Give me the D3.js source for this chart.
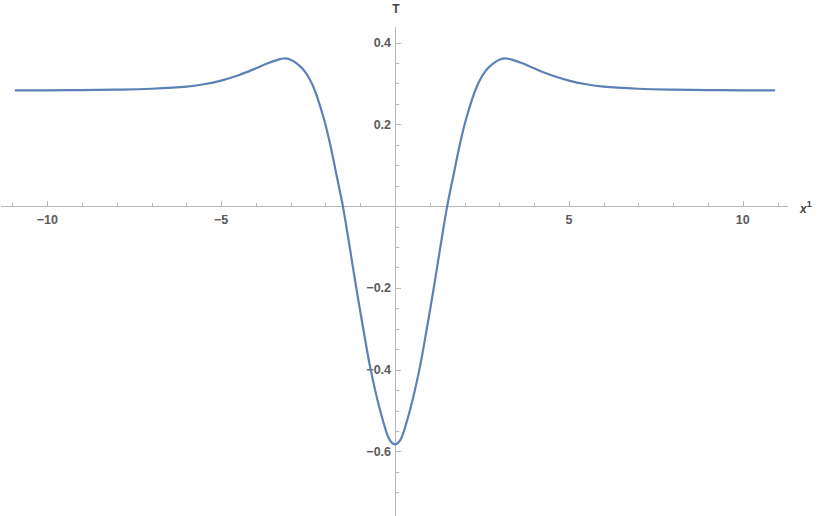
<!DOCTYPE html>
<head>
    <meta charset="utf-8">
    <title>T against x1</title>
    <style>
        body { margin: 0; background: #fff; }
        svg { display: block; }
        .axis line, .axis path { stroke: #b8b8b8; stroke-width: 1; shape-rendering: crispEdges; }
        .tick-label {
          font: bold 12.5px "Liberation Sans", Arial, sans-serif;
          fill: #5a5a5a;
        }
        .axis-label {
          font: 12px "Liberation Sans", Arial, sans-serif;
          fill: #444;
        }
        .curve {
          fill: none;
          stroke: #5e81b5;
          stroke-width: 2.2px;
          stroke-linejoin: round;
        }
    </style>
</head>
<body>
<script src="https://d3js.org/d3.v7.min.js"></script>
<script>

// curve samples
var xValues = [-10.93, -10, -9, -8, -7, -6, -5.5, -5, -4.5, -4, -3.7, -3.4, -3.2, -3.0, -2.8, -2.6,
               -2.35, -2.06, -1.87, -1.68, -1.5, -1.3, -1.12, -0.91, -0.7, -0.43, -0.19, -0.1, 0,
               0.1, 0.19, 0.43, 0.7, 0.91, 1.12, 1.3, 1.5, 1.68, 1.87, 2.06, 2.35, 2.6, 2.8,
               3.0, 3.2, 3.4, 3.7, 4, 4.5, 5, 5.5, 6, 7, 8, 9, 10, 10.93];
var tValues = [0.283, 0.2832, 0.2837, 0.2848, 0.287, 0.292, 0.298, 0.307, 0.320, 0.337, 0.348, 0.357, 0.361, 0.358, 0.347, 0.330,
               0.292, 0.218, 0.153, 0.075, 0.0, -0.102, -0.197, -0.302, -0.400, -0.499, -0.566, -0.578, -0.583,
               -0.578, -0.566, -0.499, -0.400, -0.302, -0.197, -0.102, 0.0, 0.075, 0.153, 0.218, 0.292, 0.330, 0.347,
               0.358, 0.361, 0.357, 0.348, 0.337, 0.320, 0.307, 0.298, 0.292, 0.287, 0.2848, 0.2837, 0.2832, 0.283];

var xMajor = [-10, -5, 5, 10];
var xMinor = [-11, -9, -8, -7, -6, -4, -3, -2, -1, 1, 2, 3, 4, 6, 7, 8, 9, 11];
var yMajor = [0.4, 0.2, -0.2, -0.4, -0.6];
var yMinor = [0.35, 0.3, 0.25, 0.15, 0.1, 0.05, -0.05, -0.1, -0.15, -0.25, -0.3, -0.35,
              -0.45, -0.5, -0.55, -0.65, -0.7];

var width = 818,
    height = 516;

var x = d3.scaleLinear()
    .domain([-11.33, 11.3])
    .range([1, 788]);

var y = d3.scaleLinear()
    .domain([-0.758, 0.438])
    .range([516, 27]);

var svg = d3.select("body").append("svg")
    .attr("width", width)
    .attr("height", height);

var fmt = function(d) { return d < 0 ? "\u2212" + Math.abs(d) : String(d); };

// x axis
var xAxis = svg.append("g").attr("class", "axis");
xAxis.append("line")
    .attr("x1", x.range()[0]).attr("x2", x.range()[1])
    .attr("y1", Math.round(y(0)) + 0.5).attr("y2", Math.round(y(0)) + 0.5);
xAxis.selectAll(".major").data(xMajor).enter().append("line")
    .attr("x1", function(d) { return Math.round(x(d)) + 0.5; })
    .attr("x2", function(d) { return Math.round(x(d)) + 0.5; })
    .attr("y1", Math.round(y(0)))
    .attr("y2", Math.round(y(0)) - 5);
xAxis.selectAll(".minor").data(xMinor).enter().append("line")
    .attr("x1", function(d) { return Math.round(x(d)) + 0.5; })
    .attr("x2", function(d) { return Math.round(x(d)) + 0.5; })
    .attr("y1", Math.round(y(0)))
    .attr("y2", Math.round(y(0)) - 3);
svg.selectAll(".xlab").data(xMajor).enter().append("text")
    .attr("class", "tick-label")
    .attr("x", function(d) { return x(d); })
    .attr("y", y(0) + 18)
    .attr("text-anchor", "middle")
    .text(fmt);

// y axis
var yAxis = svg.append("g").attr("class", "axis");
yAxis.append("line")
    .attr("x1", Math.round(x(0)) + 0.5).attr("x2", Math.round(x(0)) + 0.5)
    .attr("y1", y.range()[1]).attr("y2", y.range()[0]);
yAxis.selectAll(".major").data(yMajor).enter().append("line")
    .attr("x1", Math.round(x(0)))
    .attr("x2", Math.round(x(0)) + 6)
    .attr("y1", function(d) { return Math.round(y(d)) + 0.5; })
    .attr("y2", function(d) { return Math.round(y(d)) + 0.5; });
yAxis.selectAll(".minor").data(yMinor).enter().append("line")
    .attr("x1", Math.round(x(0)))
    .attr("x2", Math.round(x(0)) + 4)
    .attr("y1", function(d) { return Math.round(y(d)) + 0.5; })
    .attr("y2", function(d) { return Math.round(y(d)) + 0.5; });
svg.selectAll(".ylab").data(yMajor).enter().append("text")
    .attr("class", "tick-label")
    .attr("x", x(0) - 4)
    .attr("y", function(d) { return y(d) + 4.5; })
    .attr("text-anchor", "end")
    .text(fmt);

// axis labels
svg.append("text")
    .attr("class", "axis-label")
    .attr("x", x(0) + 1)
    .attr("y", 13)
    .attr("text-anchor", "middle")
    .style("font-weight", "bold")
    .text("T");

var xl = svg.append("text")
    .attr("class", "axis-label")
    .attr("x", 800)
    .attr("y", 213);
xl.append("tspan").style("font-style", "italic").style("font-weight", "bold").text("x");
xl.append("tspan").attr("dy", -6).style("font-size", "9px").style("font-weight", "bold").text("1");

// curve
var points = xValues.map(function(d, i) { return [d, tValues[i]]; });

var line = d3.line()
    .curve(d3.curveCatmullRom.alpha(0.5))
    .x(function(d) { return x(d[0]); })
    .y(function(d) { return y(d[1]); });

svg.append("path")
    .datum(points)
    .attr("class", "curve")
    .attr("d", line);

</script>
</body>
